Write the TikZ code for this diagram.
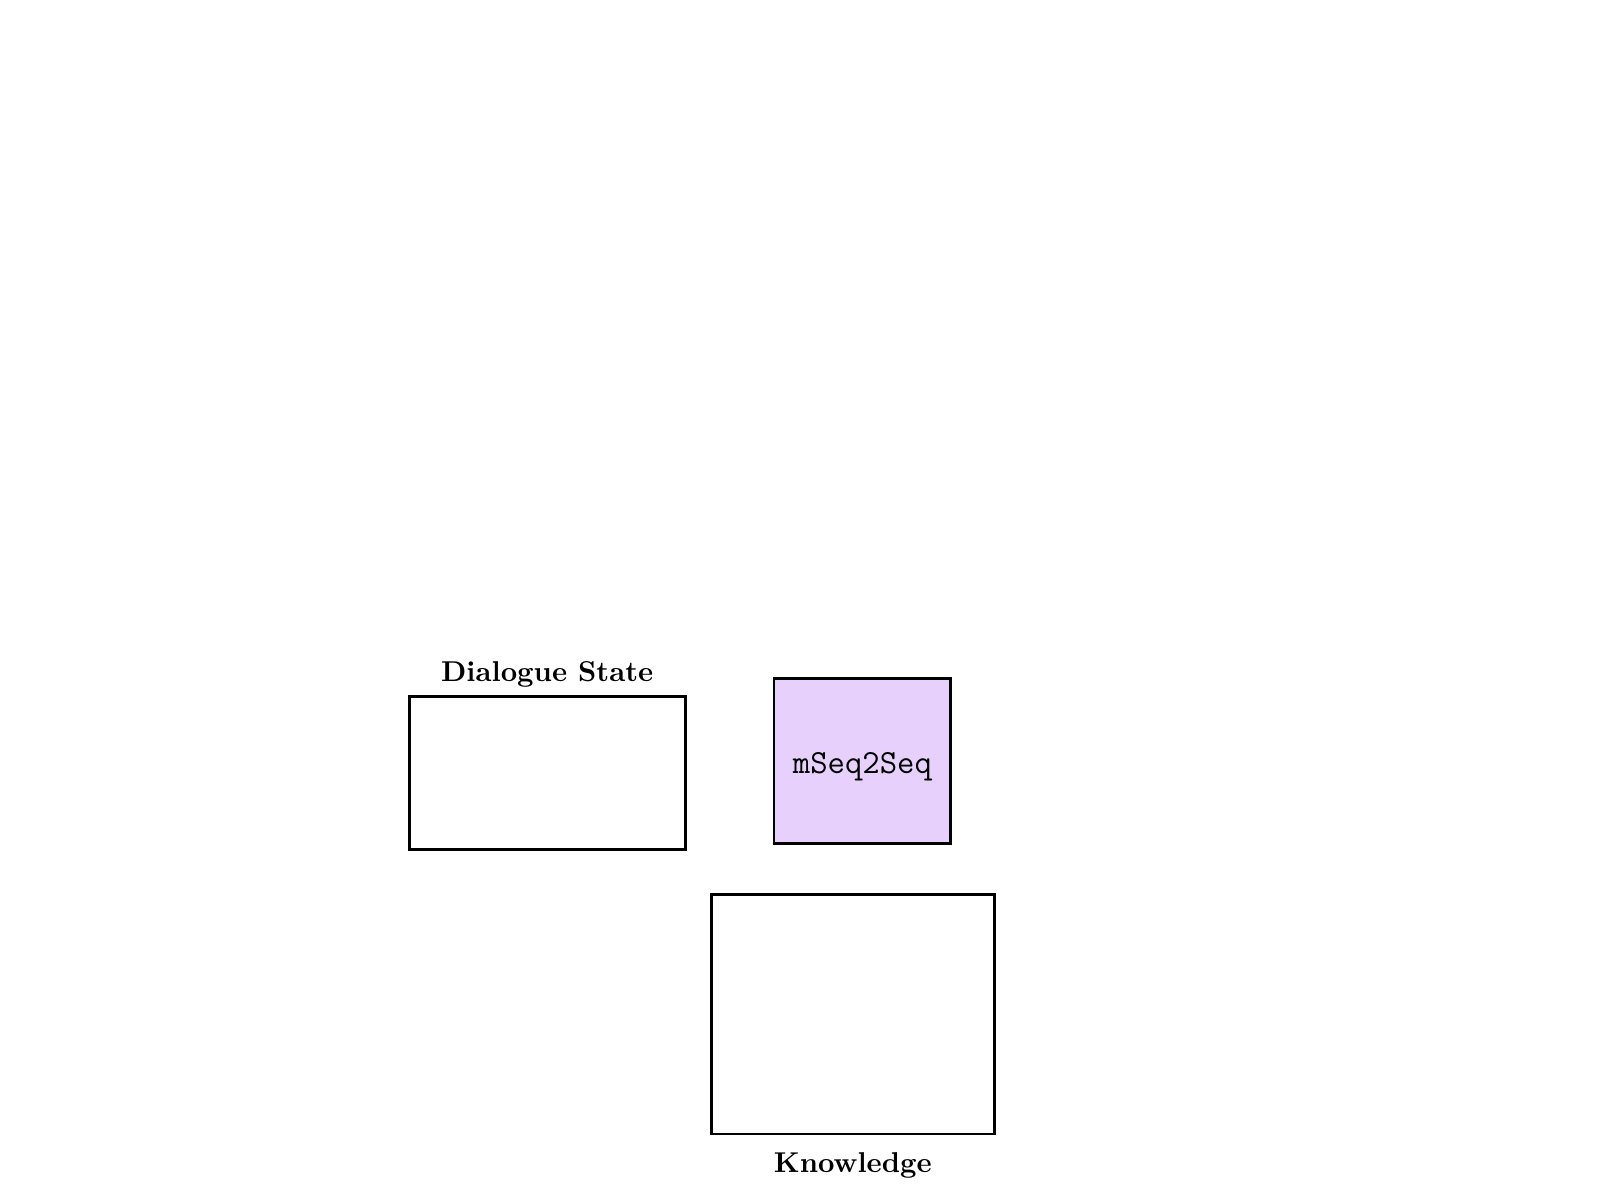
\documentclass[tikz,border=0pt]{standalone}
\usepackage{tikz}

\definecolor{seqfill}{RGB}{232,208,252}

\begin{document}
\begin{tikzpicture}[
  box/.style={draw, line width=1pt, inner sep=0pt},
  title/.style={font=\bfseries\fontsize{10.2}{12}\selectfont}
]
\useasboundingbox (0,0) rectangle (20,15);
\node[box, minimum width=3.45cm, minimum height=1.91cm,
  label={[title, label distance=-0.7pt]above:Dialogue State}] (state) at (6.84,5.34) {};
\node[box, fill=seqfill, minimum width=2.21cm, minimum height=2.06cm,
  text height=11.6pt, text depth=2.6pt,
  font=\ttfamily\fontsize{12}{14}\selectfont] (model) at (10.78,5.49) {mSeq2Seq};
\node[box, minimum width=3.54cm, minimum height=2.99cm,
  label={[title, label distance=2.6pt]below:Knowledge}] (know) at (10.66,2.32) {};
\end{tikzpicture}
\end{document}
